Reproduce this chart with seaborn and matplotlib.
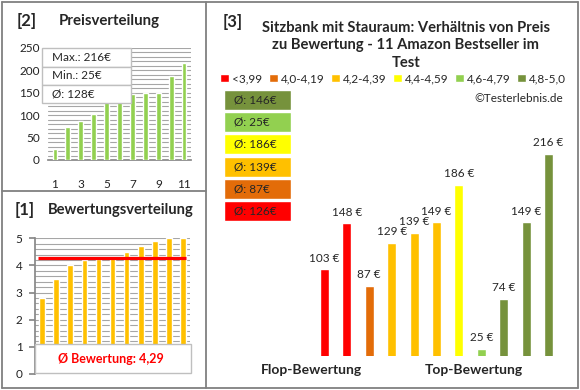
import matplotlib
matplotlib.use("Agg")
import matplotlib.pyplot as plt
from matplotlib.patches import Patch, Rectangle
from matplotlib.lines import Line2D
from matplotlib.ticker import MultipleLocator
import seaborn as sns

sns.set_theme(style='white')
plt.rcParams['font.family'] = ['Lato', 'DejaVu Sans']

# data
prices_sorted = [25, 74, 87, 103, 129, 139, 148, 149, 149, 186, 216]
ratings_sorted = [2.8, 3.5, 4.0, 4.2, 4.25, 4.3, 4.5, 4.7, 4.9, 5.0, 5.0]
rating_mean = 4.29

main_prices = [103, 148, 87, 129, 139, 149, 186, 25, 74, 149, 216]
main_groups = [0, 0, 1, 2, 2, 2, 3, 4, 5, 5, 5]

group_labels = ['<3,99', '4,0-4,19', '4,2-4,39', '4,4-4,59', '4,6-4,79', '4,8-5,0']
group_colors = ['#FF0000', '#E36C09', '#FFC000', '#FFFF00', '#92D050', '#76923C']

avg_order = [5, 4, 3, 2, 1, 0]
avg_values = [146, 25, 186, 139, 87, 126]

W, H = 580, 390
fig = plt.figure(figsize=(W / 100, H / 100), dpi=100)


def box(x0, y0, x1, y1):
    return [x0 / W, 1 - y1 / H, (x1 - x0) / W, (y1 - y0) / H]


def fx(x):
    return x / W


def fy(y):
    return 1 - y / H


grid_col = '#A6A6A6'
tick_col = '#222222'

# ---------- [2] Preisverteilung ----------
ax2 = fig.add_axes(box(48.3, 47.7, 190.7, 160))
idx = [str(i + 1) for i in range(len(prices_sorted))]
sns.barplot(x=idx, y=prices_sorted, color='#92D050', width=0.35, saturation=1, ax=ax2, zorder=3)
ax2.set_ylim(0, 250)
ax2.set_xlim(-0.5, 10.5)
ax2.yaxis.set_major_locator(MultipleLocator(50))
ax2.yaxis.set_minor_locator(MultipleLocator(10))
ax2.grid(True, which='both', axis='y', color=grid_col, lw=0.8, zorder=0)
for s in ['top', 'right', 'left']:
    ax2.spines[s].set_visible(False)
ax2.spines['bottom'].set_color('#888888')
ax2.set_xticks(range(0, 11, 2))
ax2.set_xticklabels(['1', '3', '5', '7', '9', '11'])
ax2.tick_params(axis='x', length=0, pad=14, labelsize=8.5, labelcolor=tick_col)
ax2.tick_params(axis='y', length=0, pad=6, labelsize=8.5, labelcolor=tick_col)
ax2.set_xlabel('')
ax2.set_ylabel('')

fig.text(fx(17), fy(20.7), '[2]', fontsize=12, fontweight='bold', va='center')
fig.text(fx(58.7), fy(20.7), 'Preisverteilung', fontsize=10.8, fontweight='bold', va='center')

info = ['Max.: 216€', 'Min.: 25€', 'Ø: 128€']
rows = [(48.3, 66.7), (66.7, 85), (85, 102.7)]
for t, (r0, r1) in zip(info, rows):
    fig.add_artist(Rectangle((fx(42.3), fy(r1)), fx(131.3) - fx(42.3), fy(r0) - fy(r1),
                             transform=fig.transFigure, facecolor='white',
                             edgecolor='#BFBFBF', lw=1, zorder=5))
    fig.text(fx(52.3), fy((r0 + r1) / 2), t, fontsize=8.5, va='center', zorder=6)

# ---------- [1] Bewertungsverteilung ----------
ax1 = fig.add_axes(box(35, 238.3, 190, 374))
sns.barplot(x=idx, y=ratings_sorted, color='#FFC000', width=0.4, saturation=1, ax=ax1, zorder=3)
ax1.set_ylim(0, 5)
ax1.set_xlim(-0.5, 10.5)
ax1.yaxis.set_major_locator(MultipleLocator(1))
ax1.yaxis.set_minor_locator(MultipleLocator(0.2))
ax1.grid(True, which='both', axis='y', color=grid_col, lw=0.8, zorder=0)
for s in ['top', 'right', 'bottom']:
    ax1.spines[s].set_visible(False)
ax1.spines['left'].set_color('#888888')
ax1.set_xticks([])
ax1.tick_params(axis='y', which='major', direction='out', length=4, color='#888888',
                left=True, pad=5, labelsize=8.5, labelcolor=tick_col)
ax1.tick_params(axis='y', which='minor', length=0)
ax1.hlines(rating_mean, -0.3, 10.2, color='#FF0000', lw=2.3, zorder=4)
ax1.set_xlabel('')
ax1.set_ylabel('')

fig.text(fx(15), fy(210), '[1]', fontsize=12, fontweight='bold', va='center')
fig.text(fx(48.3), fy(210), 'Bewertungsverteilung', fontsize=10.6, fontweight='bold', va='center')

fig.add_artist(Rectangle((fx(35), fy(373.3)), fx(191) - fx(35), fy(344) - fy(373.3),
                         transform=fig.transFigure, facecolor='white',
                         edgecolor='#BFBFBF', lw=1, zorder=5))
fig.text(fx(111), fy(359), 'Ø Bewertung: 4,29', fontsize=9, fontweight='bold',
         color='#FF0000', ha='center', va='center', zorder=6)

# ---------- [3] main chart ----------
ax3 = fig.add_axes(box(300, 130, 572, 355.7))
pos = [str(i) for i in range(len(main_prices))]
pal = {p: group_colors[g] for p, g in zip(pos, main_groups)}
sns.barplot(x=pos, y=main_prices, hue=pos, palette=pal, legend=False,
            width=0.4, saturation=1, ax=ax3)
ax3.set_ylim(18.3, 18.3 + (355.7 - 130) / 1.02)
ax3.set_xlim(-1.094, 11.05)
ax3.axis('off')
for i, v in enumerate(main_prices):
    ax3.annotate(f'{v} €', (i, v), xytext=(0, 4), textcoords='offset points',
                 ha='center', va='bottom', fontsize=8.5)

fig.text(fx(223), fy(22), '[3]', fontsize=12, fontweight='bold', va='center')
fig.text(fx(406), fy(45.5),
         'Sitzbank mit Stauraum: Verhältnis von Preis\nzu Bewertung - 11 Amazon Bestseller im\nTest',
         fontsize=10.6, fontweight='bold', ha='center', va='center', linespacing=1.3)

handles = [Patch(facecolor=c, label=l) for c, l in zip(group_colors, group_labels)]
fig.legend(handles=handles, loc='center', bbox_to_anchor=(fx(393), fy(78.5)), ncol=6,
           frameon=False, fontsize=8.5, handlelength=0.75, handleheight=0.75,
           handletextpad=0.25, columnspacing=0.55, borderpad=0, borderaxespad=0)

fig.text(fx(562.7), fy(98.3), '©Testerlebnis.de', fontsize=8.5, ha='right', va='center')

# average boxes per rating group
axa = fig.add_axes(box(224, 88.9, 291, 222.1))
axa.barh(range(len(avg_values)), 1, height=0.9, left=0,
         color=[group_colors[g] for g in avg_order])
axa.set_xlim(0, 1)
axa.set_ylim(len(avg_values) - 0.5, -0.5)
axa.axis('off')
for i, v in enumerate(avg_values):
    axa.text(0.15, i, f'Ø: {v}€', fontsize=8.5, va='center', ha='left')

fig.text(fx(311.7), fy(370), 'Flop-Bewertung', fontsize=10, fontweight='bold', ha='center', va='center')
fig.text(fx(474), fy(370), 'Top-Bewertung', fontsize=10, fontweight='bold', ha='center', va='center')

# panel frames
frame = '#808080'
for (x0, y0, x1, y1) in [(1.5, 1.5, 577.7, 1.5), (1.5, 388, 577.7, 388),
                         (1.5, 1.5, 1.5, 388), (577.7, 1.5, 577.7, 388),
                         (205.7, 1.5, 205.7, 388), (1.5, 191, 205.7, 191)]:
    fig.add_artist(Line2D([fx(x0), fx(x1)], [fy(y0), fy(y1)], transform=fig.transFigure,
                          color=frame, lw=1.3))

fig.savefig('out.png', dpi=100, facecolor='white')
